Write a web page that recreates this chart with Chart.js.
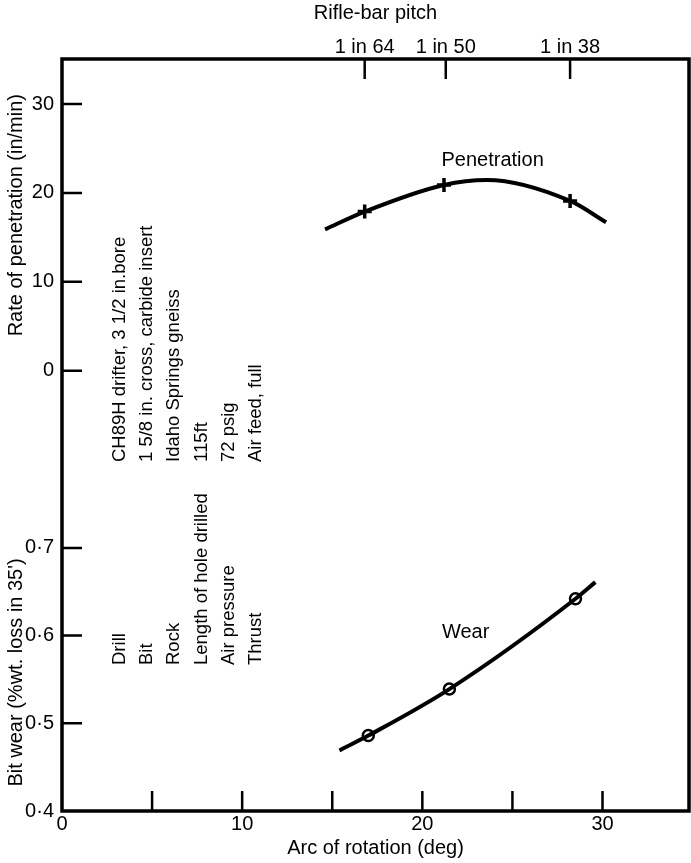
<!DOCTYPE html>
<html lang="en">
<head>
    <meta charset="utf-8">
    <title>Rifle-bar pitch</title>
    <script src="https://cdn.jsdelivr.net/npm/chart.js@4.4.1/dist/chart.umd.min.js"></script>
    <style>
        body { margin: 0; background: #fff; }
        canvas { display: block; }
    </style>
</head>
<body>
<canvas id="graph" width="691" height="863"></canvas>

<script>
    // Data
    var penCurveArc  = [14.6, 16.8, 21.2, 23.6, 28.2, 30.2];
    var penCurveRate = [15.9, 17.9, 20.9, 21.45, 19.1, 16.7];
    var penPointArc  = [16.8, 21.2, 28.2];
    var penPointRate = [17.9, 20.9, 19.1];

    var wearCurveArc  = [15.4, 17.0, 21.5, 28.5, 29.6];
    var wearCurveLoss = [0.469, 0.486, 0.539, 0.642, 0.661];
    var wearPointArc  = [17.0, 21.5, 28.5];
    var wearPointLoss = [0.486, 0.539, 0.642];

    var arcTicks   = [0, 5, 10, 15, 20, 25, 30];
    var arcLabels  = ["0", "", "10", "", "20", "", "30"];
    var pitchTicks  = [16.8, 21.3, 28.2];
    var pitchLabels = ["1 in 64", "1 in 50", "1 in 38"];
    var rateTicks = [0, 10, 20, 30];
    var wearTicks = [0.4, 0.5, 0.6, 0.7];

    var noteNames  = ["Drill", "Bit", "Rock", "Length of hole drilled", "Air pressure", "Thrust"];
    var noteValues = ["CH89H drifter, 3 1/2 in.bore", "1 5/8 in. cross, carbide insert",
                      "Idaho Springs gneiss", "115ft", "72 psig", "Air feed, full"];

    // Scale ranges
    var ARC_MAX = 34.8;
    var RATE_MIN = -49.5, RATE_MAX = 35.06;
    var WEAR_MIN = 0.4, WEAR_MAX = 1.2575;

    var FONT = '"Liberation Sans", Arial, sans-serif';
    var TICK = 20;

    function pairs(xs, ys) {
        return xs.map(function (x, i) { return {x: x, y: ys[i]}; });
    }
    function wearToRate(w) {
        return RATE_MIN + (w - WEAR_MIN) / (WEAR_MAX - WEAR_MIN) * (RATE_MAX - RATE_MIN);
    }
    function noPadding(s) {
        s.paddingLeft = 0; s.paddingRight = 0; s.paddingTop = 0; s.paddingBottom = 0;
    }

    // inward tick marks, frame, rotated notes and labels
    var decorations = {
        id: "decorations",
        afterDraw: function (chart) {
            var ctx = chart.ctx, a = chart.chartArea, s = chart.scales;
            ctx.save();
            ctx.strokeStyle = "#000";
            ctx.lineWidth = 2.5;
            ctx.beginPath();
            s.y.ticks.forEach(function (t) {
                var py = s.y.getPixelForValue(t.value);
                if (py < a.bottom - 2) { ctx.moveTo(a.left, py); ctx.lineTo(a.left + TICK, py); }
            });
            s.x.ticks.forEach(function (t) {
                var px = s.x.getPixelForValue(t.value);
                if (px > a.left + 2) { ctx.moveTo(px, a.bottom); ctx.lineTo(px, a.bottom - TICK); }
            });
            s.x2.ticks.forEach(function (t) {
                var px = s.x2.getPixelForValue(t.value);
                ctx.moveTo(px, a.top); ctx.lineTo(px, a.top + TICK);
            });
            ctx.stroke();
            ctx.lineWidth = 3.5;
            ctx.strokeRect(a.left, a.top, a.right - a.left, a.bottom - a.top);

            ctx.fillStyle = "#000";
            ctx.textBaseline = "middle";

            function vtext(str, x, y, align) {
                ctx.save();
                ctx.translate(x, y);
                ctx.rotate(-Math.PI / 2);
                ctx.textAlign = align;
                ctx.fillText(str, 0, 0);
                ctx.restore();
            }
            ctx.font = "20px " + FONT;
            vtext("Rate of penetration (in/min)", 16, s.y.getPixelForValue(17.5), "center");
            vtext("Bit wear (%wt. loss in 35')", 16, s.yW.getPixelForValue(0.558), "center");

            ctx.font = "18.5px " + FONT;
            noteNames.forEach(function (name, i) {
                var cx = a.left + 58 + i * 27.2;
                vtext(name, cx, 665, "left");
                vtext(noteValues[i], cx, 462, "left");
            });

            ctx.font = "20px " + FONT;
            ctx.textAlign = "center";
            ctx.fillText("Penetration", s.x.getPixelForValue(23.9), s.y.getPixelForValue(23.6));
            ctx.fillText("Wear", s.x.getPixelForValue(22.4), s.yW.getPixelForValue(0.603));
            ctx.restore();
        }
    };

    var tickFont = {family: FONT, size: 20};

    new Chart(document.getElementById("graph").getContext("2d"), {
        type: "line",
        data: {
            datasets: [
                {
                    data: pairs(penCurveArc, penCurveRate),
                    yAxisID: "y",
                    borderColor: "#000",
                    borderWidth: 4,
                    cubicInterpolationMode: "monotone",
                    pointRadius: 0
                },
                {
                    data: pairs(penPointArc, penPointRate),
                    yAxisID: "y",
                    showLine: false,
                    pointStyle: "cross",
                    pointRadius: 7,
                    pointBorderWidth: 3.5,
                    pointBorderColor: "#000"
                },
                {
                    data: pairs(wearCurveArc, wearCurveLoss),
                    yAxisID: "yW",
                    borderColor: "#000",
                    borderWidth: 4,
                    cubicInterpolationMode: "monotone",
                    pointRadius: 0
                },
                {
                    data: pairs(wearPointArc, wearPointLoss),
                    yAxisID: "yW",
                    showLine: false,
                    pointStyle: "circle",
                    pointRadius: 5.5,
                    pointBorderWidth: 2.5,
                    pointBorderColor: "#000",
                    pointBackgroundColor: "#fff"
                }
            ]
        },
        options: {
            responsive: false,
            animation: false,
            layout: {autoPadding: false, padding: {left: 0, right: 2, top: 0, bottom: 0}},
            plugins: {legend: {display: false}, tooltip: {enabled: false}},
            scales: {
                x: {
                    type: "linear",
                    position: "bottom",
                    min: 0, max: ARC_MAX,
                    grid: {display: false, drawTicks: false},
                    border: {display: false},
                    afterBuildTicks: function (s) { s.ticks = arcTicks.map(function (v) { return {value: v}; }); },
                    afterFit: function (s) { s.height = 52; noPadding(s); },
                    ticks: {
                        autoSkip: false, maxRotation: 0, padding: 1, color: "#000", font: tickFont,
                        callback: function (v, i) { return arcLabels[i]; }
                    },
                    title: {display: true, text: "Arc of rotation (deg)", color: "#000", font: tickFont, padding: {top: 0, bottom: 3}}
                },
                x2: {
                    type: "linear",
                    position: "top",
                    min: 0, max: ARC_MAX,
                    grid: {display: false, drawTicks: false},
                    border: {display: false},
                    afterBuildTicks: function (s) { s.ticks = pitchTicks.map(function (v) { return {value: v}; }); },
                    afterFit: function (s) { s.height = 59; noPadding(s); },
                    ticks: {
                        autoSkip: false, maxRotation: 0, padding: 0, color: "#000", font: tickFont,
                        callback: function (v, i) { return pitchLabels[i]; }
                    },
                    title: {display: true, text: "Rifle-bar pitch", color: "#000", font: tickFont, padding: {top: 1, bottom: 0}}
                },
                y: {
                    type: "linear",
                    position: "left",
                    min: RATE_MIN, max: RATE_MAX,
                    grid: {display: false, drawTicks: false},
                    border: {display: false},
                    afterBuildTicks: function (s) {
                        var t = rateTicks.map(function (v) { return {value: v}; });
                        wearTicks.forEach(function (w) { t.push({value: wearToRate(w), w: w}); });
                        s.ticks = t;
                    },
                    afterFit: function (s) { s.width = 62; noPadding(s); },
                    ticks: {
                        autoSkip: false, padding: 8, color: "#000", font: tickFont,
                        callback: function (v, i, t) {
                            return t[i].w !== undefined ? String(t[i].w).replace(".", "\u00b7") : String(v);
                        }
                    }
                },
                yW: {
                    type: "linear",
                    display: false,
                    min: WEAR_MIN, max: WEAR_MAX
                }
            }
        },
        plugins: [decorations]
    });
</script>
</body>
</html>
